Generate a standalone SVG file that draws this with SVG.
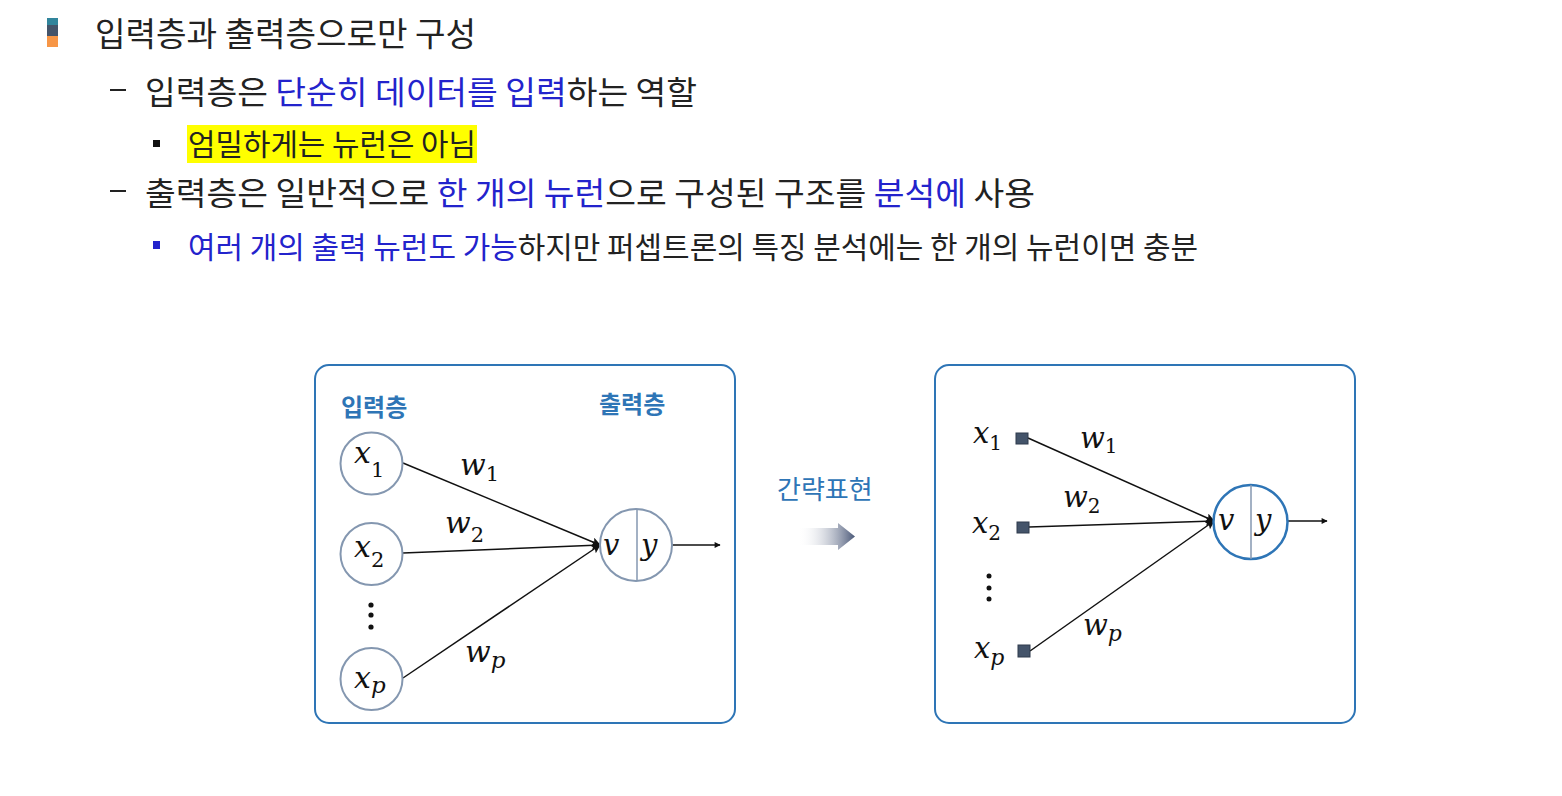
<svg xmlns="http://www.w3.org/2000/svg" width="1562" height="796" viewBox="0 0 1562 796">
<style>
.kr{font-family:"Noto Sans CJK KR","Noto Sans",sans-serif;}
.blk{fill:#222222;}
.blu{fill:#2323cc;}
.lbl{font-family:"Noto Sans CJK KR",sans-serif;fill:#2e75b6;}
.m{font-family:"DejaVu Serif","Liberation Serif",serif;font-style:italic;fill:#111;}
.d{font-style:normal;}
.box{fill:#ffffff;stroke:#2e75b6;stroke-width:2;}
.inc{fill:#ffffff;stroke:#8497b0;stroke-width:2;}
.con{stroke:#111;stroke-width:1.5;fill:none;}
.sq{fill:#44546a;stroke:#2f3b4c;stroke-width:1;}
</style>
<defs>
<marker id="ah" viewBox="0 0 10 10" refX="9" refY="5" markerWidth="10" markerHeight="9" markerUnits="userSpaceOnUse" orient="auto">
<path d="M0,0 L10,5 L0,10 L2,5 z" fill="#111"/>
</marker>
<marker id="ah2" viewBox="0 0 10 10" refX="9" refY="5" markerWidth="8" markerHeight="6" markerUnits="userSpaceOnUse" orient="auto">
<path d="M0,0 L10,5 L0,10 z" fill="#111"/>
</marker>
<linearGradient id="ga" x1="0" y1="0" x2="1" y2="0">
<stop offset="0" stop-color="#ffffff" stop-opacity="0"/>
<stop offset="1" stop-color="#4a5878"/>
</linearGradient>
</defs>
<rect width="1562" height="796" fill="#ffffff"/>

<g id="header">
<rect x="47" y="18" width="11" height="7" fill="#31859c"/>
<rect x="47" y="25" width="11" height="11" fill="#44546a"/>
<rect x="47" y="36" width="11" height="11" fill="#f79646"/>
<text class="kr blk" x="95" y="46" font-size="33" textLength="381" lengthAdjust="spacingAndGlyphs">입력층과 출력층으로만 구성</text>

<rect x="110" y="89" width="16" height="2" fill="#222"/>
<text class="kr" x="145" y="104" font-size="32" textLength="552" lengthAdjust="spacingAndGlyphs"><tspan class="blk">입력층은 </tspan><tspan class="blu">단순히 데이터를 입력</tspan><tspan class="blk">하는 역할</tspan></text>

<rect x="153" y="140" width="7" height="7" fill="#111"/>
<rect x="187" y="125" width="290" height="38" fill="#ffff00"/>
<text class="kr blk" x="188" y="155" font-size="30" textLength="288" lengthAdjust="spacingAndGlyphs">엄밀하게는 뉴런은 아님</text>

<rect x="110" y="190" width="16" height="2" fill="#222"/>
<text class="kr" x="145" y="205" font-size="32" textLength="890" lengthAdjust="spacingAndGlyphs"><tspan class="blk">출력층은 일반적으로 </tspan><tspan class="blu">한 개의 뉴런</tspan><tspan class="blk">으로 구성된 구조를 </tspan><tspan class="blu">분석에</tspan><tspan class="blk"> 사용</tspan></text>

<rect x="153" y="241" width="7" height="8" fill="#2323cc"/>
<text class="kr" x="188" y="258" font-size="30" textLength="1010" lengthAdjust="spacingAndGlyphs"><tspan class="blu">여러 개의 출력 뉴런도 가능</tspan><tspan class="blk">하지만 퍼셉트론의 특징 분석에는 한 개의 뉴런이면 충분</tspan></text>
</g>

<g id="left-panel">
<rect class="box" x="315" y="365" width="420" height="358" rx="14"/>
<text class="lbl" x="341" y="416" font-size="24" font-weight="bold">입력층</text>
<text class="lbl" x="599" y="413" font-size="24" font-weight="bold">출력층</text>
</g>

<g id="right-panel">
<rect class="box" x="935" y="365" width="420" height="358" rx="14"/>
</g>

<g id="connectors">
<line class="con" x1="403" y1="463" x2="600" y2="545" marker-end="url(#ah)"/>
<line class="con" x1="403" y1="553" x2="600" y2="545" marker-end="url(#ah)"/>
<line class="con" x1="403" y1="678" x2="600" y2="545" marker-end="url(#ah)"/>
<line class="con" x1="672" y1="545" x2="720" y2="545" marker-end="url(#ah2)"/>
<line class="con" x1="1028" y1="438" x2="1214" y2="521" marker-end="url(#ah)"/>
<line class="con" x1="1029" y1="527" x2="1214" y2="521" marker-end="url(#ah)"/>
<line class="con" x1="1030" y1="651" x2="1214" y2="521" marker-end="url(#ah)"/>
<line class="con" x1="1288" y1="521" x2="1327" y2="521" marker-end="url(#ah2)"/>
</g>

<g id="node-x1">
<circle class="inc" cx="371.5" cy="463.5" r="31"/>
<text class="m" x="354" y="463" font-size="30">x<tspan class="d" font-size="21" dy="14">1</tspan></text>
</g>
<g id="node-x2">
<circle class="inc" cx="371.5" cy="554" r="31"/>
<text class="m" x="354" y="557" font-size="30">x<tspan class="d" font-size="21" dy="10">2</tspan></text>
</g>
<g id="node-dots-left">
<circle cx="371" cy="605" r="2.6" fill="#111"/>
<circle cx="371" cy="615" r="2.6" fill="#111"/>
<circle cx="371" cy="627" r="2.6" fill="#111"/>
</g>
<g id="node-xp">
<circle class="inc" cx="371.5" cy="679" r="31"/>
<text class="m" x="354" y="688" font-size="30">x<tspan font-size="23" dy="5">p</tspan></text>
</g>
<g id="node-out-left">
<circle class="inc" cx="636" cy="545" r="36"/>
<line x1="637" y1="509" x2="637" y2="581" stroke="#8497b0" stroke-width="1.5"/>
<text class="m" x="603" y="555" font-size="29">v</text>
<text class="m" x="641" y="555" font-size="29">y</text>
</g>
<g id="weights-left">
<text class="m" x="460" y="475" font-size="30">w<tspan class="d" font-size="21" dy="6">1</tspan></text>
<text class="m" x="445" y="533" font-size="30">w<tspan class="d" font-size="21" dy="9">2</tspan></text>
<text class="m" x="465" y="662" font-size="30">w<tspan font-size="23" dy="6">p</tspan></text>
</g>

<g id="transform-arrow">
<text class="lbl" x="777" y="499" font-size="26">간략표현</text>
<path d="M798,528 L838,528 L838,523 L855,536.5 L838,550 L838,545 L798,545 z" fill="url(#ga)"/>
</g>

<g id="node-sx1">
<rect class="sq" x="1016" y="433" width="12" height="11"/>
<text class="m" x="973" y="443" font-size="29">x<tspan class="d" font-size="20" dy="7">1</tspan></text>
</g>
<g id="node-sx2">
<rect class="sq" x="1017" y="522" width="12" height="11"/>
<text class="m" x="972" y="533" font-size="29">x<tspan class="d" font-size="20" dy="7">2</tspan></text>
</g>
<g id="node-dots-right">
<circle cx="989" cy="576" r="2.5" fill="#111"/>
<circle cx="989" cy="588" r="2.5" fill="#111"/>
<circle cx="989" cy="599" r="2.5" fill="#111"/>
</g>
<g id="node-sxp">
<rect class="sq" x="1018" y="645" width="12" height="12"/>
<text class="m" x="974" y="658" font-size="29">x<tspan font-size="22" dy="7">p</tspan></text>
</g>
<g id="node-out-right">
<circle cx="1250.5" cy="522" r="37" fill="#ffffff" stroke="#2e75b6" stroke-width="2.5"/>
<line x1="1251" y1="485" x2="1251" y2="559" stroke="#8497b0" stroke-width="1.5"/>
<text class="m" x="1218" y="530" font-size="29">v</text>
<text class="m" x="1255" y="530" font-size="29">y</text>
</g>
<g id="weights-right">
<text class="m" x="1080" y="448" font-size="29">w<tspan class="d" font-size="20" dy="5">1</tspan></text>
<text class="m" x="1063" y="507" font-size="29">w<tspan class="d" font-size="20" dy="6">2</tspan></text>
<text class="m" x="1083" y="635" font-size="29">w<tspan font-size="22" dy="6">p</tspan></text>
</g>
</svg>
